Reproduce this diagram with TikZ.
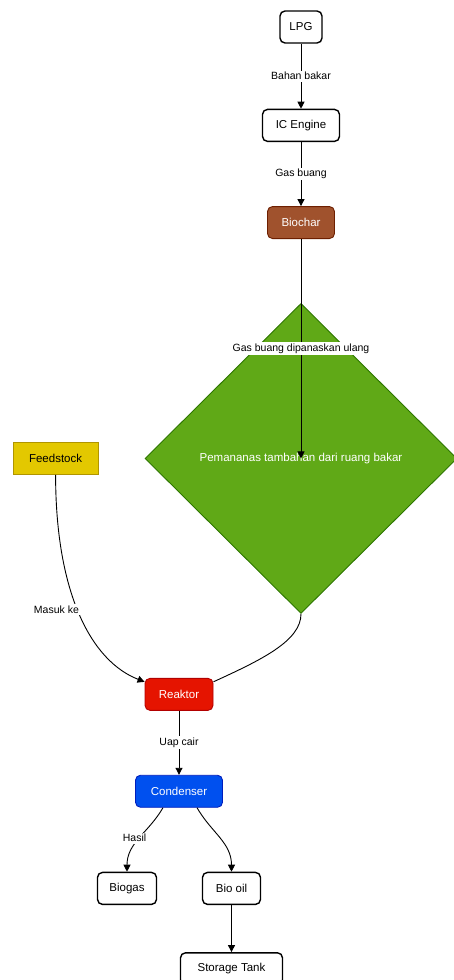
\documentclass[tikz,border=0pt]{standalone}
\usepackage{fontspec}
\setmainfont{Liberation Sans}
\usepackage{xcolor}
\usetikzlibrary{positioning,arrows.meta,shapes.geometric}

\definecolor{charfill}{HTML}{A0522D}
\definecolor{charline}{HTML}{6D1F00}
\definecolor{heatfill}{HTML}{60A917}
\definecolor{heatline}{HTML}{2D7600}
\definecolor{feedfill}{HTML}{E3C800}
\definecolor{feedline}{HTML}{B09500}
\definecolor{rxfill}{HTML}{E51400}
\definecolor{rxline}{HTML}{B20000}
\definecolor{cnfill}{HTML}{0050EF}
\definecolor{cnline}{HTML}{001DBC}

\begin{document}
\begin{tikzpicture}[x=1pt, y=-1pt,
  box/.style={draw, rounded corners=5pt, line width=1.4pt, minimum height=32pt, align=center, font=\fontsize{11.5}{13}\selectfont, fill=white, inner sep=4pt},
  cbox/.style={box, line width=0.9pt, text=white},
  lbl/.style={font=\fontsize{10.5}{12}\selectfont, fill=white, inner sep=1.5pt},
  arr/.style={-{Triangle[length=7pt,width=7pt]}, line width=0.9pt}
]
\useasboundingbox (0,0) rectangle (454,980);

\node[box, minimum width=42pt] (lpg) at (301,27) {LPG};
\node[box, minimum width=77pt, below=65pt of lpg] (ice) {IC Engine};
\node[cbox, minimum width=67pt, fill=charfill, draw=charline, below=64pt of ice] (bio) {Biochar};
\node[diamond, aspect=1, draw=heatline, fill=heatfill, line width=0.9pt, minimum width=312pt, minimum height=310pt, inner sep=0pt, text=white, font=\fontsize{11.5}{13}\selectfont, below=64pt of bio] (dia) {Pemananas tambahan dari ruang bakar};
\node[cbox, minimum width=85pt, rounded corners=0pt, fill=feedfill, draw=feedline, text=black, left=46pt of dia] (feed) {Feedstock};
\node[cbox, minimum width=68pt, fill=rxfill, draw=rxline, below=64pt of dia, xshift=-122pt] (rx) {Reaktor};
\node[cbox, minimum width=87pt, fill=cnfill, draw=cnline, below=64pt of rx] (cn) {Condenser};
\node[box, minimum width=59pt, below=64pt of cn, xshift=-52pt] (gas) {Biogas};
\node[box, minimum width=58pt, below=64pt of cn, xshift=52.5pt] (oil) {Bio oil};
\node[box, minimum width=102pt, below=47pt of oil] (tank) {Storage Tank};

\draw[arr] (lpg) -- node[lbl]{Bahan bakar} (ice);
\draw[arr] (ice) -- node[lbl]{Gas buang} (bio);
\draw[arr] (bio.south) -- node[lbl]{Gas buang dipanaskan ulang} (dia.center);
\draw[arr] (feed.south) .. controls +(0,117) and +(-54,-21) .. node[lbl, pos=0.5, anchor=east, xshift=1pt, yshift=5pt]{Masuk ke} (rx.160);
\draw[line width=0.9pt] (dia.south) .. controls +(0,27) and +(48,-22) .. (rx.20);
\draw[arr] (rx) -- node[lbl]{Uap cair} (cn);
\draw[arr] ([xshift=-16pt]cn.south) .. controls +(-14.5,25) and +(0,-29) .. node[lbl, pos=0.5, xshift=-5pt]{Hasil} (gas.north);
\draw[arr] ([xshift=18pt]cn.south) .. controls +(14.5,25) and +(0,-29) .. (oil.north);
\draw[arr] (oil) -- (tank);
\end{tikzpicture}
\end{document}
